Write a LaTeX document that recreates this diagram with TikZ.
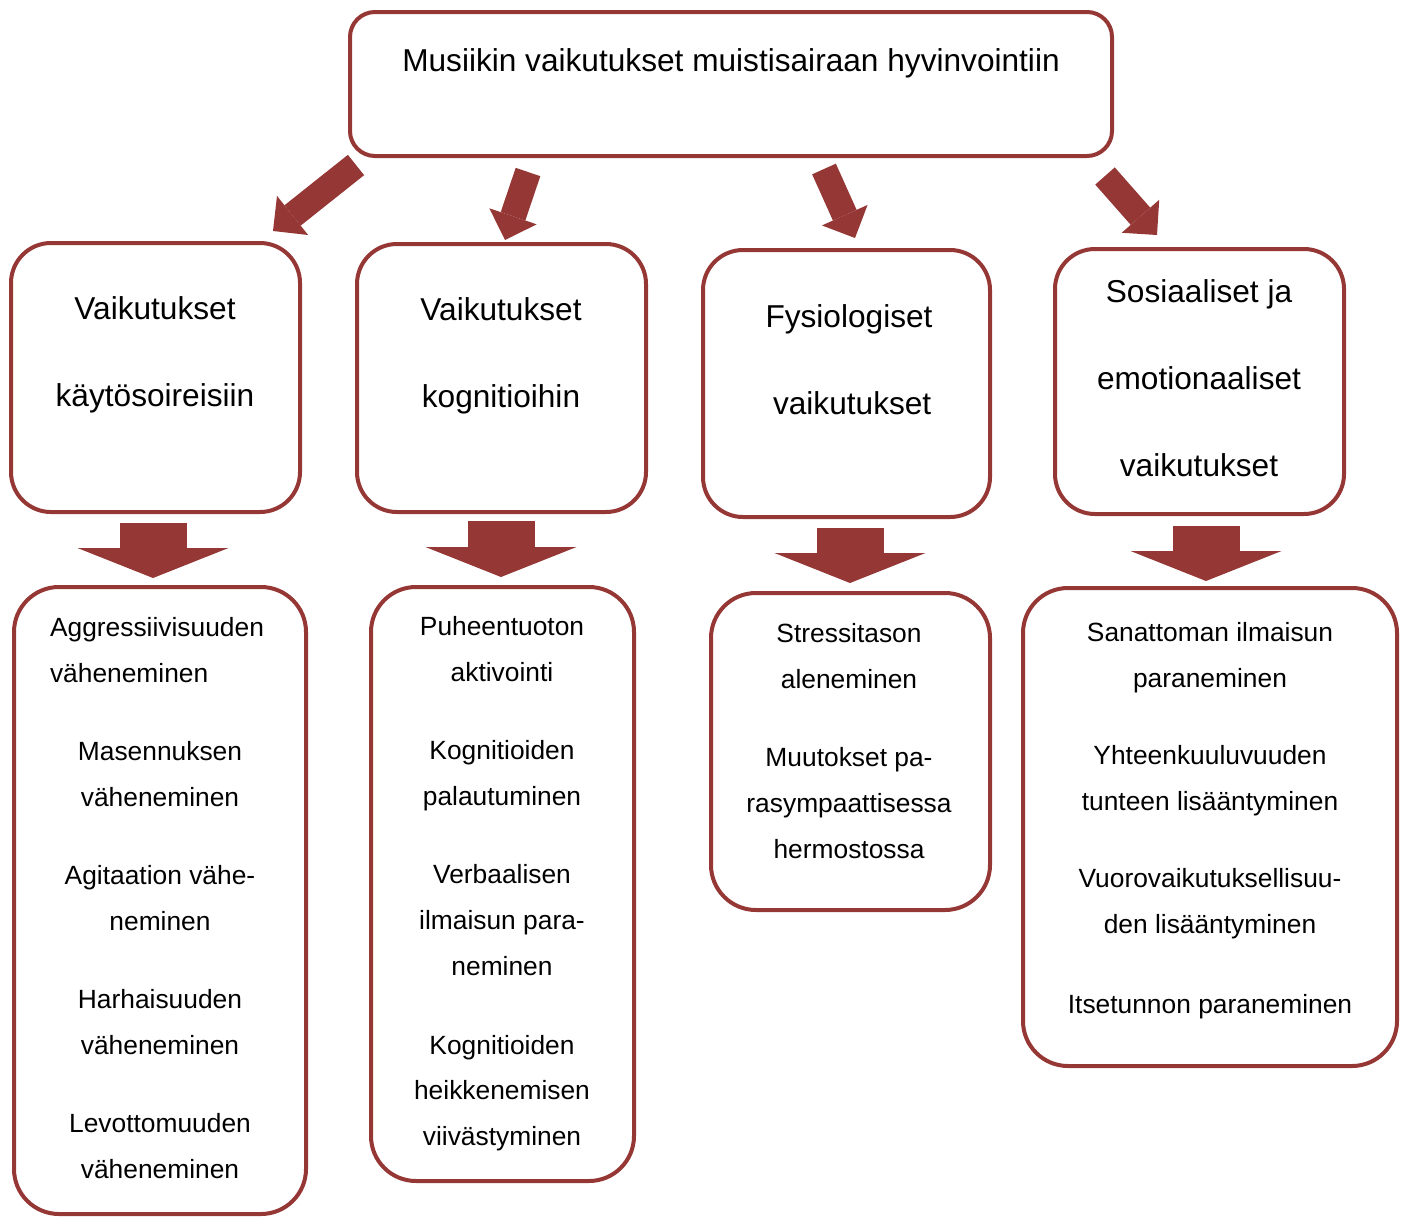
\documentclass[tikz,border=0pt]{standalone}
\usepackage{fontspec}
\setmainfont{Liberation Sans}
\usetikzlibrary{ arrows.meta, % For the block arrow tips
                 fit,         % For boxes fitted round corner points
                 positioning,
               }
\definecolor{boxred}{RGB}{149,55,53}
\tikzstyle{box} = [draw=boxred, line width=0.8mm, rounded corners=9mm, inner sep=0pt]
\tikzstyle{head} = [align=center, font=\fontsize{18pt}{49.5pt}\selectfont]
\tikzstyle{item} = [align=center, font=\fontsize{15pt}{26pt}\selectfont]
\tikzstyle{diag} = [boxred, line width=5.2mm, -{Triangle[length=5mm, width=10mm, line width=0pt]}]
\tikzstyle{down} = [boxred, line width=13.4mm, -{Triangle[length=6mm, width=30.2mm, line width=0pt]}]

\begin{document}
\begin{tikzpicture}[x=0.2mm, y=-0.2mm]
  \useasboundingbox (0,0) rectangle (1409,1218);

  % top box
  \node (top) [box, rounded corners=5mm, fit={(350,12) (1112,156)}] {};
  \node (title) [head] at (731,63) {Musiikin vaikutukset muistisairaan hyvinvointiin};

  % headings
  \node (h1) [box, rounded corners=8mm, fit={(11,243) (300,512)}] {};
  \node (h1t) [head] at (155,355) {Vaikutukset\\käytösoireisiin};
  \node (h2) [box, rounded corners=8mm, fit={(357,244) (646,512)}] {};
  \node (h2t) [head] at (501,356) {Vaikutukset\\kognitioihin};
  \node (h3) [box, rounded corners=8mm, fit={(703,250) (990,517)}] {};
  \node (h3t) [head] at (849,360) {Fysiologiset\\\hspace*{0.2em}vaikutukset};
  \node (h4) [box, rounded corners=8mm, fit={(1055,249) (1344,514)}] {};
  \node (h4t) [head] at (1199,378) {Sosiaaliset ja\\emotionaaliset\\vaikutukset};

  % arrows from the top box
  \coordinate (d1s) at (356,165);  \coordinate (d1e) at (273,231);
  \coordinate (d2s) at (528,172);  \coordinate (d2e) at (505,240);
  \coordinate (d3s) at (824,169);  \coordinate (d3e) at (855,238);
  \coordinate (d4s) at (1105,176); \coordinate (d4e) at (1157,235);
  \draw[diag] (d1s) -- (d1e);
  \draw[diag] (d2s) -- (d2e);
  \draw[diag] (d3s) -- (d3e);
  \draw[diag] (d4s) -- (d4e);

  % arrows down to the lists
  \coordinate (a1s) at (153,523);  \coordinate (a1e) at (153,578);
  \coordinate (a2s) at (501,521);  \coordinate (a2e) at (501,577);
  \coordinate (a3s) at (850,528);  \coordinate (a3e) at (850,583);
  \coordinate (a4s) at (1206,526); \coordinate (a4e) at (1206,581);
  \draw[down] (a1s) -- (a1e);
  \draw[down] (a2s) -- (a2e);
  \draw[down] (a3s) -- (a3e);
  \draw[down] (a4s) -- (a4e);

  % lists
  \node (l1) [box, fit={(14,587) (306,1214)}] {};
  \node (l1a) [item, align=left] at (157,650) {Aggressiivisuuden\\väheneminen};
  \node (l1b) [item] at (160,774) {Masennuksen\\väheneminen};
  \node (l1c) [item] at (160,898) {Agitaation vähe-\\neminen};
  \node (l1d) [item] at (160,1022) {Harhaisuuden\\väheneminen};
  \node (l1e) [item] at (160,1146) {Levottomuuden\\väheneminen};

  \node (l2) [box, fit={(371,587) (634,1181)}] {};
  \node (l2a) [item] at (502,649) {Puheentuoton\\aktivointi};
  \node (l2b) [item] at (502,776) {Kognitioiden\\palautuminen};
  \node (l2c) [item] at (502,920) {Verbaalisen\\ilmaisun para-\\neminen};
  \node (l2d) [item] at (502,1093) {Kognitioiden\\heikkenemisen\\viivästyminen};

  \node (l3) [box, fit={(711,593) (990,910)}] {};
  \node (l3a) [item] at (849,656) {Stressitason\\aleneminen};
  \node (l3b) [item] at (849,803) {Muutokset pa-\\rasympaattisessa\\hermostossa};

  \node (l4) [box, fit={(1023,588) (1397,1066)}] {};
  \node (l4a) [item] at (1210,658) {Sanattoman ilmaisun\\paraneminen};
  \node (l4b) [item] at (1210,781) {Yhteenkuuluvuuden\\tunteen lisääntyminen};
  \node (l4c) [item] at (1210,904) {Vuorovaikutuksellisuu-\\den lisääntyminen};
  \node (l4d) [item] at (1210,1007) {Itsetunnon paraneminen};

\end{tikzpicture}
\end{document}
